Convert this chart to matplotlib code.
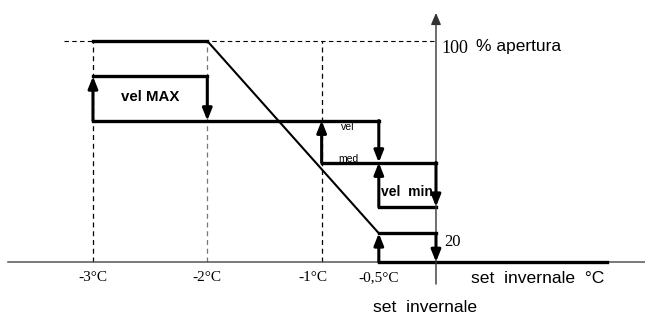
import matplotlib.pyplot as plt

# livelli (schema, non in scala) della valvola in % apertura
y_full = 100
y_max = 84
y_med = 64
y_med_lo = 45
y_min = 25
y_20 = 13
x_end = 1.5

tick_pos = [-3, -2, -1, -0.5]
tick_labels = ['-3°C', '-2°C', '-1°C', '-0,5°C']

# tratti orizzontali spessi: (x inizio, x fine, livello)
segmenti = [(-3, -2, y_full), (-3, -2, y_max), (-3, -0.5, y_med),
            (-1, 0, y_med_lo), (-0.5, 0, y_min), (-0.5, 0, y_20),
            (-0.5, x_end, 0)]
# frecce verticali: (x, da, a)
frecce_su = [(-3, y_med, y_max), (-1, y_med_lo, y_med),
             (-0.5, y_min, y_med_lo), (-0.5, 0, y_20)]
frecce_giu = [(-2, y_max, y_med), (-0.5, y_med, y_med_lo),
              (0, y_med_lo, y_min), (0, y_20, 0)]
rampa_x = [-2, -0.5]
rampa_y = [y_full, y_20]

sans = ['Liberation Sans', 'DejaVu Sans']
serif = ['Liberation Serif', 'DejaVu Serif']

fig = plt.figure(figsize=(6.45, 3.15), dpi=100)
ax = fig.add_axes([0, 0, 1, 1])
ax.set_xlim(-3.813, 1.828)
ax.set_ylim(-23.98, 118.55)
ax.axis('off')

# linee tratteggiate di riferimento
ax.plot([-3.25, 0], [y_full, y_full], ls=(0, (4, 3)), color='black', lw=0.8)
for x in tick_pos[:3]:
    c = '#777777' if x == -2 else 'black'
    ax.plot([x, x], [0, y_full], ls=(0, (4, 3)), color=c, lw=0.9)

# assi
ax.plot([-3.74, 1.83], [0, 0], color='#555555', lw=1.1)
ax.annotate('', xy=(0, 112.7), xytext=(0, -10),
            arrowprops=dict(arrowstyle='-|>,head_length=0.7,head_width=0.3',
                            color='#333333', lw=1.0, shrinkA=0, shrinkB=0,
                            mutation_scale=10))

# curva
ax.plot(rampa_x, rampa_y, color='black', lw=1.5, solid_capstyle='butt')
for x0, x1, y in segmenti:
    ax.plot([x0, x1], [y, y], color='black', lw=2.4, solid_capstyle='projecting')
for x, y0, y1 in frecce_su + frecce_giu:
    ax.annotate('', xy=(x, y1), xytext=(x, y0),
                arrowprops=dict(arrowstyle='-|>,head_length=0.7,head_width=0.28',
                                color='black', lw=2.2, shrinkA=0, shrinkB=0,
                                mutation_scale=10))

# testi
for x, t in zip(tick_pos, tick_labels):
    dx = -0.08 if x == -1 else 0
    ax.text(x + dx, -7.2, t, ha='center', va='center', family=serif, fontsize=11)
ax.text(0.05, 96.8, '100', ha='left', va='center', family=serif, fontsize=13)
ax.text(0.35, 97.6, '% apertura', ha='left', va='center', family=sans, fontsize=12.5)
ax.text(0.07, 9.0, '20', ha='left', va='center', family=serif, fontsize=12)
ax.text(0.31, -7.3, 'set  invernale  °C', ha='left', va='center', family=sans, fontsize=12.6)
ax.text(-0.55, -20.5, 'set  invernale', ha='left', va='center', family=sans, fontsize=12.6)
ax.text(-2.5, 74.7, 'vel MAX', ha='center', va='center', family=sans,
        fontsize=10.8, fontweight='bold')
ax.text(-0.25, 31.7, 'vel  min', ha='center', va='center', family=sans,
        fontsize=10, fontweight='bold')
ax.text(-0.77, 61.1, 'vel', ha='center', va='center', family=sans, fontsize=7.5)
ax.text(-0.77, 46.6, 'med', ha='center', va='center', family=sans, fontsize=7.5)

fig.savefig('out.png', dpi=100)
